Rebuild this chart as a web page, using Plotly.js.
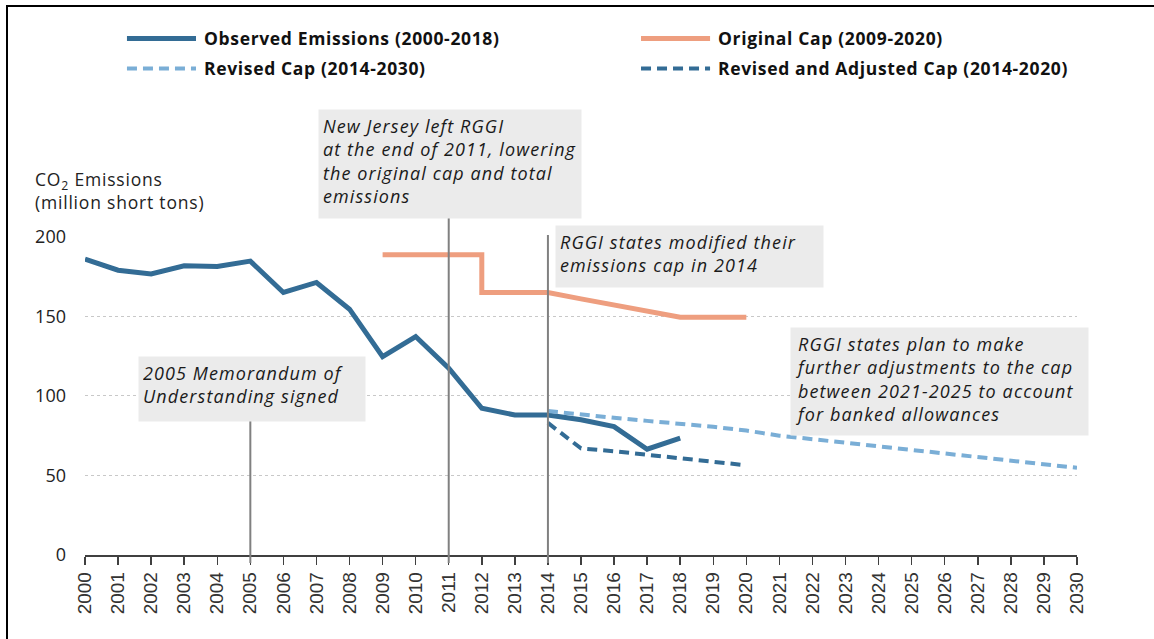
<!DOCTYPE html>
<html>
<head>
<meta charset="utf-8">
<script src="https://cdn.plot.ly/plotly-3.0.1.min.js"></script>
<style>
  html, body { margin: 0; padding: 0; background: #fff; }
  #wrap { position: relative; width: 1154px; height: 639px; overflow: hidden; }
  #chart { position: absolute; left: 0; top: 0; width: 1154px; height: 639px; }
  #frame { position: absolute; left: 6px; top: 5px; width: 1200px; height: 700px;
           border-left: 2px solid #000; border-top: 2px solid #000; pointer-events: none; }
  /* the source picture is a bit wide, so widen the text spacing */
  .annotation[data-index="0"] text, .annotation[data-index="1"] text,
  .annotation[data-index="2"] text, .annotation[data-index="3"] text { letter-spacing: 1.1px; }
  .annotation[data-index="4"] text, .annotation[data-index="5"] text,
  .annotation[data-index="6"] text, .annotation[data-index="7"] text { letter-spacing: 0.65px; }
  .annotation[data-index="8"] text { letter-spacing: 0.8px; }
</style>
</head>
<body>
<div id="wrap">
  <div id="chart"></div>
  <div id="frame"></div>
</div>
<script>
const obsYears = [2000, 2001, 2002, 2003, 2004, 2005, 2006, 2007, 2008, 2009,
                  2010, 2011, 2012, 2013, 2014, 2015, 2016, 2017, 2018];
const obsValues = [186, 179, 176.7, 181.8, 181.3, 184.7, 165, 171.3, 154.5, 124.7,
                   137.3, 117.4, 92.2, 88, 88, 85, 80.7, 66.5, 73.4];

// step at 2012 when New Jersey left
const origYears = [2009, 2012, 2012, 2014, 2015, 2016, 2017, 2018, 2019, 2020];
const origValues = [188.7, 188.7, 165, 165, 161, 157, 153, 149.4, 149.4, 149.4];

const revYears = [2014, 2015, 2016, 2017, 2018, 2019, 2020, 2021, 2022,
                  2023, 2024, 2025, 2026, 2027, 2028, 2029, 2030];
const revValues = [90.5, 88.2, 86.2, 84.3, 82.6, 80.6, 78.2, 75, 72.8,
                   70.6, 68.4, 66.1, 63.9, 61.6, 59.4, 57.1, 54.8];

const adjYears = [2014, 2015, 2016, 2017, 2018, 2019, 2020];
const adjValues = [83, 67, 65.2, 62.9, 60.6, 58.2, 56.4];

const yearTicks = [];
for (let y = 2000; y <= 2030; y++) yearTicks.push(y);
const yearLabels = yearTicks.map(String);
const valueTicks = [0, 50, 100, 150, 200];

const seriesNames = ['Observed Emissions (2000-2018)', 'Original Cap (2009-2020)',
                     'Revised Cap (2014-2030)', 'Revised and Adjusted Cap (2014-2020)'];

const eventYears = [2005, 2011, 2014];
const eventTops = [0.4245, 1.06, 1.003];

const notes = [
  'New Jersey left RGGI<br>at the end of 2011, lowering<br>the original cap and total<br>emissions',
  'RGGI states modified their<br>emissions cap in 2014',
  '2005 Memorandum of<br>Understanding signed',
  'RGGI states plan to make<br>further adjustments to the cap<br>between 2021-2025 to account<br>for banked allowances'
];

const FONT = '"Open Sans", Lato, sans-serif';
const C_OBS = '#336c95';
const C_ORIG = '#ee9e7f';
const C_REV = '#7aaed6';
const C_ADJ = '#336c95';
const DASH = '10px,6px';

const traces = [
  { x: obsYears, y: obsValues, mode: 'lines', name: seriesNames[0],
    line: { color: C_OBS, width: 5 } },
  { x: origYears, y: origValues, mode: 'lines', name: seriesNames[1],
    line: { color: C_ORIG, width: 5 } },
  { x: revYears, y: revValues, mode: 'lines', name: seriesNames[2],
    line: { color: C_REV, width: 4, dash: DASH } },
  { x: adjYears, y: adjValues, mode: 'lines', name: seriesNames[3],
    line: { color: C_ADJ, width: 4, dash: DASH } }
];

const shapes = eventYears.map((yr, i) => ({
  type: 'line', xref: 'x', yref: 'paper', layer: 'above',
  x0: yr, x1: yr, y0: -0.025, y1: eventTops[i],
  line: { color: '#808080', width: 2 }
}));

// hand drawn legend: two rows, two columns
const legendPos = [[0.0423, 1.6195], [0.5605, 1.6195], [0.0423, 1.5252], [0.5605, 1.5252]];
const legendLines = [
  { color: C_OBS, width: 5, dash: 'solid' },
  { color: C_ORIG, width: 5, dash: 'solid' },
  { color: C_REV, width: 4, dash: DASH },
  { color: C_ADJ, width: 4, dash: DASH }
];
legendPos.forEach((p, i) => {
  shapes.push({ type: 'line', xref: 'paper', yref: 'paper',
    x0: p[0], x1: p[0] + 0.0696, y0: p[1], y1: p[1], line: legendLines[i] });
});

const noteFont = { family: FONT, size: 18, color: '#1a1a1a', style: 'italic' };
const noteBoxes = [
  { x: 0.2349, y: 1.3994, w: 262, h: 108 },
  { x: 0.4738, y: 1.0346, w: 267, h: 61 },
  { x: 0.0534, y: 0.6226, w: 226, h: 64 },
  { x: 0.7107, y: 0.7138, w: 297, h: 107 }
];

const annotations = noteBoxes.map((b, i) => ({
  xref: 'paper', yref: 'paper', x: b.x, y: b.y, xanchor: 'left', yanchor: 'top',
  text: notes[i], showarrow: false, align: 'left', valign: 'top',
  width: b.w - 8, height: b.h - 8, borderpad: 4, bgcolor: '#ebebeb', font: noteFont
}));

legendPos.forEach((p, i) => {
  annotations.push({
    xref: 'paper', yref: 'paper', x: p[0] + 0.0756, y: p[1], xanchor: 'left', yanchor: 'middle',
    text: '<b>' + seriesNames[i] + '</b>', showarrow: false, align: 'left',
    width: 420, font: { family: FONT, size: 17.5, color: '#111' }
  });
});

annotations.push({
  xref: 'paper', yref: 'paper', x: -0.0524, y: 1.222, xanchor: 'left', yanchor: 'top',
  text: 'CO<sub>2</sub> Emissions<br>(million short tons)', showarrow: false, align: 'left',
  width: 200, font: { family: FONT, size: 17.5, color: '#222' }
});

const layout = {
  width: 1154, height: 639,
  margin: { l: 85, r: 77, t: 236, b: 84 },
  paper_bgcolor: '#fff', plot_bgcolor: '#fff',
  showlegend: false,
  font: { family: FONT, color: '#222' },
  xaxis: {
    range: [2000, 2030], tickvals: yearTicks, ticktext: yearLabels,
    tickangle: -90, ticks: 'outside', ticklen: 8, tickwidth: 1.5, tickcolor: '#404040',
    showline: true, linecolor: '#404040', linewidth: 1.5, showgrid: false, zeroline: false,
    tickfont: { family: 'Liberation Sans, Arial, sans-serif', size: 19, color: '#333' }
  },
  yaxis: {
    range: [0, 200.5], tickvals: valueTicks, ticktext: valueTicks.map(String),
    showline: false, zeroline: false, ticks: '', ticklabelstandoff: 18,
    showgrid: true, gridcolor: '#c8c8c8', gridwidth: 1, griddash: 'dot',
    tickfont: { family: FONT, size: 18, color: '#222' }
  },
  shapes: shapes,
  annotations: annotations
};

Plotly.newPlot('chart', traces, layout, { displayModeBar: false, staticPlot: true });
</script>
</body>
</html>
